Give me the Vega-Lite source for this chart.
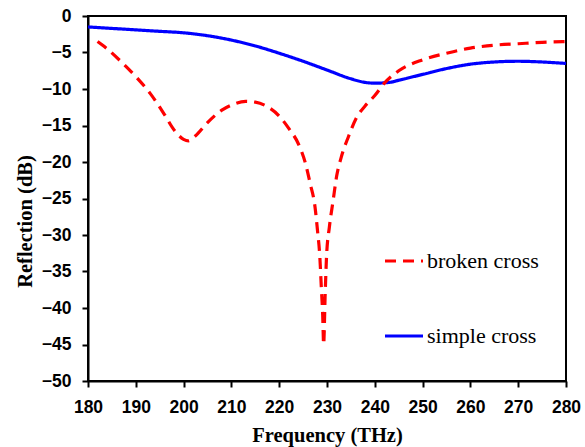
{
  "$schema": "https://vega.github.io/schema/vega-lite/v6.json",
  "width": 478,
  "height": 365,
  "autosize": {"type": "none"},
  "padding": {"left": 88, "top": 16, "right": 19, "bottom": 66},
  "background": "white",
  "config": {
    "view": {"stroke": "black", "strokeWidth": 2},
    "axis": {
      "grid": false,
      "domainColor": "black",
      "domainWidth": 2,
      "tickColor": "black",
      "tickWidth": 2,
      "tickSize": 6,
      "labelFont": "Liberation Sans",
      "labelFontWeight": "bold",
      "labelFontSize": 17.5,
      "labelColor": "black",
      "labelFlush": false,
      "labelOverlap": false,
      "titleFont": "Liberation Serif",
      "titleFontWeight": "bold",
      "titleFontSize": 20.5,
      "titleColor": "black"
    }
  },
  "data": {
    "values": [
      {"f": 180, "r": -1.5, "s": "simple cross"},
      {"f": 185, "r": -1.7, "s": "simple cross"},
      {"f": 190, "r": -1.9, "s": "simple cross"},
      {"f": 195, "r": -2.1, "s": "simple cross"},
      {"f": 200, "r": -2.3, "s": "simple cross"},
      {"f": 205, "r": -2.7, "s": "simple cross"},
      {"f": 210, "r": -3.3, "s": "simple cross"},
      {"f": 215, "r": -4.1, "s": "simple cross"},
      {"f": 220, "r": -5.1, "s": "simple cross"},
      {"f": 225, "r": -6.2, "s": "simple cross"},
      {"f": 230, "r": -7.4, "s": "simple cross"},
      {"f": 235, "r": -8.6, "s": "simple cross"},
      {"f": 238, "r": -9.1, "s": "simple cross"},
      {"f": 240, "r": -9.2, "s": "simple cross"},
      {"f": 243, "r": -9.1, "s": "simple cross"},
      {"f": 245, "r": -8.8, "s": "simple cross"},
      {"f": 250, "r": -8.0, "s": "simple cross"},
      {"f": 255, "r": -7.2, "s": "simple cross"},
      {"f": 260, "r": -6.6, "s": "simple cross"},
      {"f": 265, "r": -6.3, "s": "simple cross"},
      {"f": 270, "r": -6.2, "s": "simple cross"},
      {"f": 275, "r": -6.3, "s": "simple cross"},
      {"f": 280, "r": -6.5, "s": "simple cross"},
      {"f": 182, "r": -3.5, "s": "broken cross"},
      {"f": 184, "r": -4.5, "s": "broken cross"},
      {"f": 187, "r": -6.3, "s": "broken cross"},
      {"f": 190, "r": -8.3, "s": "broken cross"},
      {"f": 193, "r": -10.6, "s": "broken cross"},
      {"f": 196, "r": -13.5, "s": "broken cross"},
      {"f": 198, "r": -15.6, "s": "broken cross"},
      {"f": 200, "r": -16.9, "s": "broken cross"},
      {"f": 201, "r": -17.1, "s": "broken cross"},
      {"f": 202.5, "r": -16.4, "s": "broken cross"},
      {"f": 205, "r": -14.6, "s": "broken cross"},
      {"f": 208, "r": -12.9, "s": "broken cross"},
      {"f": 210, "r": -12.2, "s": "broken cross"},
      {"f": 213, "r": -11.7, "s": "broken cross"},
      {"f": 215, "r": -11.8, "s": "broken cross"},
      {"f": 217.5, "r": -12.4, "s": "broken cross"},
      {"f": 220, "r": -13.7, "s": "broken cross"},
      {"f": 222, "r": -15.4, "s": "broken cross"},
      {"f": 224, "r": -17.5, "s": "broken cross"},
      {"f": 225.5, "r": -20.2, "s": "broken cross"},
      {"f": 226.5, "r": -23.0, "s": "broken cross"},
      {"f": 227.5, "r": -26.2, "s": "broken cross"},
      {"f": 228, "r": -29.3, "s": "broken cross"},
      {"f": 228.5, "r": -33.0, "s": "broken cross"},
      {"f": 228.8, "r": -37.0, "s": "broken cross"},
      {"f": 229.1, "r": -41.0, "s": "broken cross"},
      {"f": 229.3, "r": -45.0, "s": "broken cross"},
      {"f": 229.6, "r": -38.5, "s": "broken cross"},
      {"f": 229.9, "r": -33.0, "s": "broken cross"},
      {"f": 230.5, "r": -28.9, "s": "broken cross"},
      {"f": 231.3, "r": -25.2, "s": "broken cross"},
      {"f": 232, "r": -22.0, "s": "broken cross"},
      {"f": 233, "r": -19.3, "s": "broken cross"},
      {"f": 234.5, "r": -16.5, "s": "broken cross"},
      {"f": 236.2, "r": -13.9, "s": "broken cross"},
      {"f": 238, "r": -12.3, "s": "broken cross"},
      {"f": 240, "r": -10.9, "s": "broken cross"},
      {"f": 242, "r": -9.2, "s": "broken cross"},
      {"f": 245, "r": -7.5, "s": "broken cross"},
      {"f": 250, "r": -6.0, "s": "broken cross"},
      {"f": 255, "r": -5.1, "s": "broken cross"},
      {"f": 260, "r": -4.4, "s": "broken cross"},
      {"f": 265, "r": -4.0, "s": "broken cross"},
      {"f": 270, "r": -3.8, "s": "broken cross"},
      {"f": 275, "r": -3.6, "s": "broken cross"},
      {"f": 280, "r": -3.5, "s": "broken cross"}
    ]
  },
  "mark": {"type": "line", "interpolate": "monotone", "strokeWidth": 3.2},
  "encoding": {
    "x": {
      "field": "f", "type": "quantitative",
      "scale": {"domain": [180, 280], "nice": false, "zero": false},
      "axis": {"values": [180, 190, 200, 210, 220, 230, 240, 250, 260, 270, 280], "title": "Frequency (THz)", "labelPadding": 11, "titleY": 60, "titleBaseline": "alphabetic"}
    },
    "y": {
      "field": "r", "type": "quantitative",
      "scale": {"domain": [-50, 0], "nice": false, "zero": false},
      "axis": {"values": [-50, -45, -40, -35, -30, -25, -20, -15, -10, -5, 0], "title": "Reflection (dB)", "labelPadding": 11, "titleX": -57, "titleY": 205, "titleBaseline": "alphabetic"}
    },
    "color": {
      "field": "s", "type": "nominal",
      "scale": {"domain": ["broken cross", "simple cross"], "range": ["#ff0000", "#0000ff"]},
      "legend": {
        "title": null, "orient": "none", "legendX": 295, "legendY": 224,
        "symbolType": "stroke", "symbolSize": 1444, "symbolStrokeWidth": 3.2,
        "labelFont": "Liberation Serif", "labelFontSize": 22, "labelColor": "black",
        "rowPadding": 43, "labelOffset": 2, "padding": 0
      }
    },
    "strokeDash": {
      "field": "s", "type": "nominal",
      "scale": {"domain": ["broken cross", "simple cross"], "range": [[11, 7], [1, 0]]},
      "legend": {
        "title": null, "orient": "none", "legendX": 295, "legendY": 224,
        "symbolType": "stroke", "symbolSize": 1444, "symbolStrokeWidth": 3.2,
        "labelFont": "Liberation Serif", "labelFontSize": 22, "labelColor": "black",
        "rowPadding": 43, "labelOffset": 2, "padding": 0
      }
    }
  }
}
